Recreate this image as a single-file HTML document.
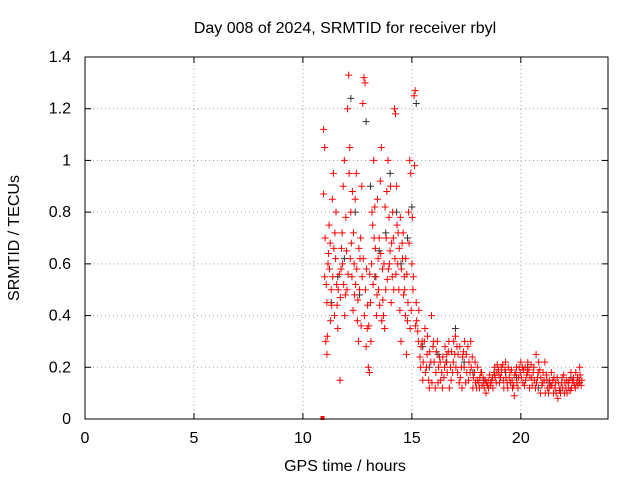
<!DOCTYPE html>
<html><head><meta charset="utf-8"><style>
body{margin:0;background:#fff;}
svg{display:block;font-family:"Liberation Sans","DejaVu Sans",sans-serif;font-size:16px;}
</style></head><body>
<svg id="chart" width="640" height="480" viewBox="0 0 640 480" xmlns="http://www.w3.org/2000/svg">
<rect width="640" height="480" fill="#fff"/>
<text x="345" y="33" text-anchor="middle" fill="#000">Day 008 of 2024, SRMTID for receiver rbyl</text>
<text x="345" y="471" text-anchor="middle">GPS time / hours</text>
<text transform="translate(19,238) rotate(-90)" text-anchor="middle">SRMTID / TECUs</text>
<g id="grid"></g>
<g id="ticks"></g>
<g id="marks"></g>
<rect x="85" y="57" width="523" height="362" fill="none" stroke="#000" stroke-width="1"/>
</svg>
<script>
const xTicks=[0,5,10,15,20];
const yTicks=[0,0.2,0.4,0.6,0.8,1,1.2,1.4];
const yTickLabels=["0","0.2","0.4","0.6","0.8","1","1.2","1.4"];
const redTimes=[10.95,10.95,11.0,11.0,11.05,11.1,11.1,11.15,11.2,11.25,11.3,11.35,11.4,11.45,11.5,11.55,11.6,11.7,11.75,11.8,11.85,11.9,11.95,12.0,12.05,12.1,12.15,12.2,12.25,12.3,12.35,12.4,12.45,12.5,12.55,12.6,12.65,12.7,12.75,12.8,12.85,12.9,12.95,13.0,13.05,13.1,13.15,13.2,13.25,13.3,13.35,13.4,13.45,13.5,13.55,13.6,13.65,13.7,13.75,13.8,13.85,13.9,13.95,14.0,14.05,14.1,14.15,14.2,14.25,14.3,14.35,14.4,14.45,14.5,14.55,14.6,14.65,14.7,14.75,14.8,14.85,14.9,14.95,15.0,15.05,15.1,15.15,15.2,15.3,15.4,15.5,15.6,15.7,15.8,15.9,16.0,16.1,16.2,16.3,16.4,16.5,16.6,16.7,16.8,16.9,17.0,17.1,17.2,17.3,17.4,17.5,17.6,17.7,17.8,17.9,18.0,18.1,18.2,18.3,18.4,18.5,18.6,18.7,18.8,18.9,19.0,19.1,19.2,19.3,19.4,19.5,19.6,19.7,19.8,19.9,20.0,20.1,20.2,20.3,20.4,20.5,20.6,20.7,20.8,20.9,21.0,21.1,21.2,21.3,21.4,21.5,21.6,21.7,21.8,21.9,22.0,22.1,22.2,22.3,22.4,22.5,22.6,22.7,22.8,
11.02,11.12,11.22,11.32,11.42,11.52,11.62,11.72,11.82,11.92,12.02,12.12,12.22,12.32,12.42,12.52,12.62,12.72,12.82,12.92,13.02,13.12,13.22,13.32,13.42,13.52,13.62,13.72,13.82,13.92,14.02,14.12,14.22,14.32,14.42,14.52,14.62,14.72,14.82,14.92,15.02,15.12,15.22,15.32,15.42,15.52,15.62,15.72,15.82,15.92,16.02,16.12,16.22,16.32,16.42,16.52,16.62,16.72,16.82,16.92,17.02,17.12,17.22,17.32,17.42,17.52,17.62,17.72,17.82,17.92,18.02,18.12,18.22,18.32,18.42,18.52,18.62,18.72,18.82,18.92,19.02,19.12,19.22,19.32,19.42,19.52,19.62,19.72,19.82,19.92,20.02,20.12,20.22,20.32,20.42,20.52,20.62,20.72,20.82,20.92,21.02,21.12,21.22,21.32,21.42,21.52,21.62,21.72,21.82,21.92,22.02,22.12,22.22,22.32,22.42,22.52,22.62,22.72];
const redValues=[1.12,0.87,1.05,0.55,0.3,0.25,0.45,0.6,0.75,0.68,0.5,0.85,0.95,0.4,0.62,0.52,0.35,0.15,0.58,0.72,0.9,1.0,0.48,0.65,1.2,1.33,1.05,0.8,0.55,0.42,0.6,0.85,0.95,0.38,0.3,0.5,0.7,0.9,1.22,1.32,1.3,0.28,0.35,0.2,0.18,0.45,0.6,0.75,1.0,0.82,0.55,0.48,0.62,0.7,0.92,1.05,0.58,0.4,0.35,0.5,0.88,1.0,0.78,0.65,0.45,0.55,0.7,1.2,1.18,0.9,0.6,0.5,0.42,0.3,0.68,0.72,0.55,0.4,0.25,0.38,0.8,1.0,0.95,0.6,0.5,1.25,1.27,0.45,0.3,0.2,0.15,0.35,0.25,0.12,0.4,0.3,0.18,0.14,0.22,0.12,0.2,0.25,0.3,0.15,0.22,0.32,0.18,0.28,0.12,0.2,0.25,0.15,0.3,0.12,0.22,0.15,0.12,0.18,0.14,0.1,0.15,0.13,0.16,0.2,0.18,0.17,0.2,0.15,0.22,0.12,0.18,0.15,0.09,0.2,0.16,0.22,0.14,0.2,0.18,0.12,0.16,0.2,0.25,0.18,0.1,0.14,0.22,0.15,0.12,0.18,0.1,0.14,0.08,0.12,0.16,0.1,0.15,0.12,0.18,0.14,0.12,0.16,0.2,0.15,
0.7,0.32,0.58,0.44,0.66,0.8,0.5,0.47,0.6,0.4,0.5,0.95,0.68,0.72,0.52,0.46,0.62,0.55,0.4,0.58,0.36,0.3,0.52,0.66,0.85,0.44,0.38,0.6,0.7,0.58,0.9,0.8,0.62,0.75,0.66,0.58,0.48,0.62,0.45,0.35,0.78,0.98,0.38,0.42,0.28,0.22,0.18,0.32,0.26,0.14,0.22,0.26,0.2,0.15,0.24,0.28,0.18,0.12,0.26,0.3,0.2,0.25,0.16,0.24,0.3,0.18,0.22,0.2,0.16,0.14,0.2,0.16,0.13,0.12,0.14,0.12,0.14,0.12,0.16,0.21,0.14,0.18,0.12,0.16,0.2,0.14,0.12,0.17,0.14,0.2,0.16,0.19,0.15,0.22,0.16,0.13,0.15,0.14,0.22,0.16,0.18,0.1,0.12,0.15,0.13,0.16,0.1,0.14,0.1,0.12,0.14,0.1,0.15,0.12,0.16,0.18,0.13,0.17];
const redTimes2=[11.07,11.17,11.27,11.37,11.47,11.57,11.67,11.77,11.87,11.97,12.07,12.17,12.27,12.37,12.47,12.57,12.67,12.77,12.87,12.97,13.07,13.17,13.27,13.37,13.47,13.57,13.67,13.77,13.87,13.97,14.07,14.17,14.27,14.37,14.47,14.57,14.67,14.77,14.87,14.97,15.07,15.17,15.27,15.37,15.47,
15.57,15.67,15.77,15.87,15.97,16.07,16.17,16.27,16.37,16.47,16.57,16.67,16.77,16.87,16.97,17.07,17.17,17.27,17.37,17.47,17.57,17.67,17.77,17.87,17.97,18.07,18.17,18.27,18.37,18.47,18.57,18.67,18.77,18.87,18.97,19.07,19.17,19.27,19.37,19.47,19.57,19.67,19.77,19.87,19.97,20.07,20.17,20.27,20.37,20.47,20.57,20.67,20.77,20.87,20.97,21.07,21.17,21.27,21.37,21.47,21.57,21.67,21.77,21.87,21.97,22.07,22.17,22.27,22.37,22.47,22.57,22.67,22.77];
const redValues2=[0.52,0.64,0.38,0.55,0.72,0.44,0.56,0.66,0.52,0.78,0.56,0.62,0.88,0.48,0.58,0.66,0.36,0.62,0.5,0.44,0.56,0.8,0.7,0.4,0.5,0.64,0.46,0.82,0.54,0.6,0.68,0.5,0.56,0.72,0.78,0.62,0.5,0.56,0.68,0.42,0.55,0.36,0.34,0.24,0.3,
0.3,0.2,0.15,0.22,0.28,0.12,0.3,0.24,0.18,0.16,0.22,0.26,0.2,0.18,0.25,0.28,0.14,0.2,0.26,0.14,0.28,0.18,0.24,0.18,0.12,0.14,0.18,0.16,0.15,0.13,0.17,0.15,0.18,0.14,0.19,0.16,0.21,0.19,0.14,0.16,0.19,0.13,0.18,0.12,0.18,0.2,0.13,0.17,0.19,0.21,0.18,0.12,0.16,0.19,0.13,0.15,0.17,0.1,0.13,0.15,0.12,0.16,0.11,0.14,0.17,0.12,0.14,0.11,0.15,0.13,0.14,0.15,0.13];
const blackTimes=[11.3,11.6,11.9,12.2,12.4,12.6,12.9,13.1,13.3,13.5,13.8,14.0,14.3,14.5,14.8,15.0,15.2,15.5,15.8,16.2,16.6,17.0,17.4,17.8,18.3,18.8,19.3,19.8,20.3,20.8,21.3,21.8,22.3,22.7];
const blackValues=[0.45,0.55,0.62,1.24,0.8,0.48,1.15,0.9,0.55,0.65,0.72,0.95,0.8,0.6,0.7,0.82,1.22,0.28,0.2,0.25,0.22,0.35,0.22,0.18,0.15,0.17,0.18,0.16,0.2,0.12,0.14,0.12,0.16,0.14];
const squareTimes=[10.9];
const squareValues=[0];

const X0=85,X1=608,Y0=419,Y1=57,XMAX=24,YMAX=1.4;
function xs(v){return X0+(X1-X0)*v/XMAX;}
function ys(v){return Y0-(Y0-Y1)*v/YMAX;}
const NS="http://www.w3.org/2000/svg";
function mk(tag,attrs,parent){const e=document.createElementNS(NS,tag);for(const k in attrs)e.setAttribute(k,attrs[k]);parent.appendChild(e);return e;}
const grid=document.getElementById('grid'),ticks=document.getElementById('ticks'),marks=document.getElementById('marks');
xTicks.forEach(t=>{const x=xs(t);
 if(t>0){const g=mk('line',{x1:x,x2:x,y1:Y1,y2:Y0,stroke:'#a0a0a0','stroke-dasharray':'1,3'},grid);
 
 }
 mk('line',{x1:x,x2:x,y1:Y0,y2:Y0-6,stroke:'#000'},ticks);
 mk('line',{x1:x,x2:x,y1:Y1,y2:Y1+6,stroke:'#000'},ticks);
 const l=mk('text',{x:x,y:Y0+24,'text-anchor':'middle'},ticks);l.textContent=String(t);
 
 
});
yTicks.forEach((t,i)=>{const y=ys(t);
 if(t>0&&t<YMAX){const g=mk('line',{x1:X0,x2:X1,y1:y,y2:y,stroke:'#a0a0a0','stroke-dasharray':'1,3'},grid);
 
 }
 mk('line',{x1:X0,x2:X0+6,y1:y,y2:y,stroke:'#000'},ticks);
 mk('line',{x1:X1,x2:X1-6,y1:y,y2:y,stroke:'#000'},ticks);
 const l=mk('text',{x:X0-14,y:y+5,'text-anchor':'end'},ticks);l.textContent=yTickLabels[i];
 
 
});
function plus(times,vals,color,name){times.forEach((t,i)=>{const x=xs(t),y=ys(vals[i]);
 const p=mk('path',{d:`M${x-3.5},${y}h7M${x},${y-3.5}v7`,stroke:color,'stroke-width':1,fill:'none'},marks);
 
 
});}
plus(blackTimes,blackValues,'#333','point-black');
plus(redTimes,redValues,'#ff0000','point-red');
plus(redTimes2,redValues2,'#ff0000','point-red');
squareTimes.forEach((t,i)=>{const r=mk('rect',{x:xs(t)-2,y:ys(squareValues[i])-3,width:4,height:4,fill:'#ff0000'},marks);
 
 
});
</script>
</body></html>
